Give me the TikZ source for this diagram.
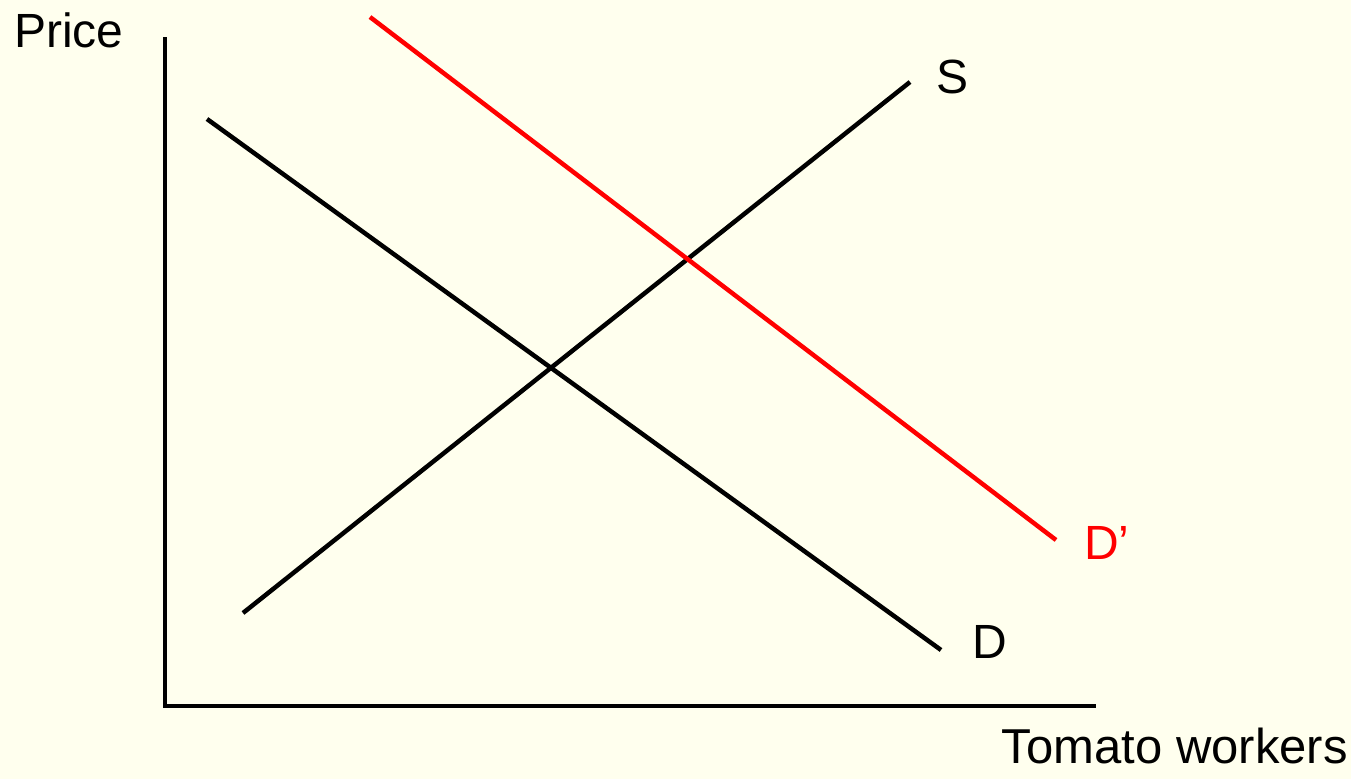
\documentclass[tikz,border=0pt]{standalone}
\usepackage{xcolor}
\usepackage{fontspec}
\setmainfont{Liberation Sans}
\usetikzlibrary{positioning}
\definecolor{paleyellow}{HTML}{FFFFEE}
\definecolor{shiftred}{HTML}{FF0000}

\begin{document}
\begin{tikzpicture}[x=1pt, y=-1pt, line width=4.5pt,
    curvelabel/.style={inner sep=0pt, anchor=base west, font=\fontsize{48}{56}\selectfont}]
    \fill[paleyellow] (0,0) rectangle (1351,779);
    \useasboundingbox (0,0) rectangle (1351,779);
    % axes
    \coordinate (ytop) at (165,37);
    \coordinate (origin) at (165,706);
    \coordinate (xend) at (1096,706);
    \draw (ytop) -- (origin) -- (xend);
    \node[curvelabel] (price) at (12,47) {Price};
    \node[curvelabel, anchor=base east, font=\fontsize{49}{58}\selectfont] (workers) at (1350,763) {Tomato workers};
    % curves
    \coordinate (dstart) at (207,119);
    \coordinate (dend) at (941,650);
    \coordinate (sstart) at (243,613);
    \coordinate (send) at (910,82);
    \coordinate (dnewstart) at (370,17);
    \coordinate (dnewend) at (1056,540);
    \draw (dstart) -- (dend);
    \draw (sstart) -- (send);
    \draw[shiftred] (dnewstart) -- (dnewend);
    \node[curvelabel] (dlabel) at (970,658) {D};
    \node[curvelabel] (slabel) at (934,93) {S};
    \node[curvelabel, text=shiftred] (dnewlabel) at (1082,559) {D’};
  \end{tikzpicture}
\end{document}
